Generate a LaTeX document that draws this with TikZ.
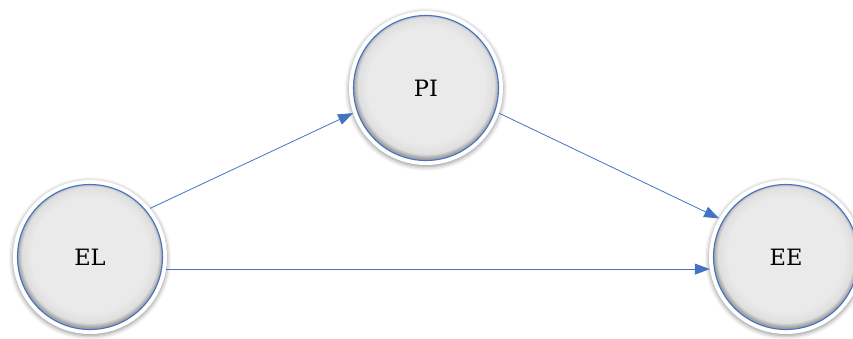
\documentclass[tikz,border=0pt]{standalone}
\usepackage{fontspec}
\setmainfont{DejaVu Serif}
\usetikzlibrary{arrows.meta,shadows.blur}

\definecolor{linkblue}{HTML}{4472C4}
\definecolor{bubblelight}{HTML}{EAEAEA}
\definecolor{bubbledark}{HTML}{A0A0A0}

% soft grey disc, a little darker towards the lower rim
\pgfdeclareradialshading{bubble}{\pgfpoint{0bp}{1.5bp}}{%
  color(0bp)=(bubblelight); color(20bp)=(bubblelight);
  color(23.5bp)=(bubblelight!85!bubbledark); color(25bp)=(bubbledark);
  color(50bp)=(bubbledark)}

\tikzset{
  ring/.style={circle, minimum size=154pt, inner sep=0pt, fill=white,
    blur shadow={shadow xshift=0pt, shadow yshift=-1.5pt,
      shadow blur radius=4.5pt, shadow opacity=45}},
  bubblenode/.style={circle, minimum size=145pt, inner sep=0pt,
    shading=bubble, draw=linkblue, line width=1.1pt,
    font=\fontsize{22.5}{26}\selectfont},
  link/.style={draw=linkblue, line width=0.8pt,
    -{Triangle[length=15pt,width=11pt]}}
}

\begin{document}
\begin{tikzpicture}[x=1pt,y=-1pt]
  \useasboundingbox (0,0) rectangle (853,338);
  \clip (0,0) rectangle (853,338);

  % white outer rings with shadow
  \node[ring] (ELr) at (90,257) {};
  \node[ring] (PIr) at (426,88) {};
  \node[ring] (EEr) at (786,257) {};

  % inner discs with labels
  \node[bubblenode] (EL) at (ELr.center) {EL};
  \node[bubblenode] (PI) at (PIr.center) {PI};
  \node[bubblenode] (EE) at (EEr.center) {EE};

  % paths between the variables
  \draw[link] (ELr.39.7) -- (PIr.199.4);
  \draw[link] (PIr.-19.6) -- (EEr.150);
  \draw[link] (ELr.-9.3) -- (EEr.189.3);
\end{tikzpicture}
\end{document}
